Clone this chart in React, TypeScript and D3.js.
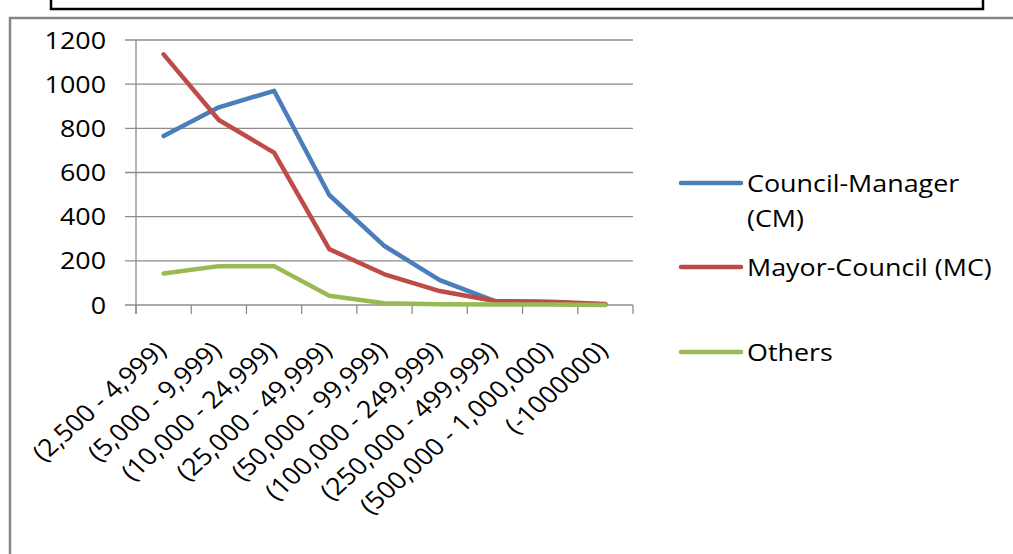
import React from "react";
import * as d3 from "d3";

// Population ranges of the municipalities
const categories = [
  "(2,500 - 4,999)",
  "(5,000 - 9,999)",
  "(10,000 - 24,999)",
  "(25,000 - 49,999)",
  "(50,000 - 99,999)",
  "(100,000 - 249,999)",
  "(250,000 - 499,999)",
  "(500,000 - 1,000,000)",
  "(-1000000)",
];

// Number of municipalities per form of government
const councilManager = [765, 895, 970, 498, 267, 113, 18, 12, 2];
const mayorCouncil = [1135, 838, 690, 253, 139, 63, 18, 15, 5];
const others = [143, 176, 176, 42, 8, 3, 2, 2, 0];

const yTicks = [0, 200, 400, 600, 800, 1000, 1200];

const seriesNames = ["Council-Manager", "Mayor-Council (MC)", "Others"];
const seriesColors = ["#4A7EBB", "#BE4B48", "#98B954"];

const W = 1013;
const H = 554;
const FONT = "'Open Sans', 'DejaVu Sans', sans-serif";
const FS = 24;
const SX = 1.12; // horizontal widening of the text glyphs

export default function App() {
  const x = d3.scaleBand<string>().domain(categories).range([136, 633]).padding(0);
  const y = d3.scaleLinear().domain([0, 1200]).range([305, 40]);
  const cx = (c: string) => (x(c) as number) + x.bandwidth() / 2;

  const line = d3
    .line<number>()
    .x((_, i) => cx(categories[i]))
    .y((d) => y(d));

  const series = [councilManager, mayorCouncil, others];
  const boundaries = [...categories.map((c) => x(c) as number), x.range()[1]];

  const legendRows = [
    { lines: ["Council-Manager", "(CM)"], y: 183 },
    { lines: ["Mayor-Council (MC)"], y: 267 },
    { lines: ["Others"], y: 352 },
  ];

  return (
    <svg
      width={W}
      height={H}
      style={{ position: "absolute", left: 0, top: 0, background: "#fff" }}
      fontFamily={FONT}
    >
      {/* outer frame */}
      <path d={`M10,${H + 5} V18 H${W + 5}`} fill="none" stroke="#858585" strokeWidth={2.5} />
      {/* box above the chart */}
      <rect x={51} y={-10} width={932} height={19} fill="none" stroke="#000" strokeWidth={2.5} />

      {/* gridlines */}
      {yTicks.map((t) => (
        <line key={t} x1={125} x2={633} y1={y(t)} y2={y(t)} stroke="#8C8C8C" strokeWidth={1.3} />
      ))}
      {/* y axis */}
      <line x1={136} x2={136} y1={y(1200)} y2={314} stroke="#8C8C8C" strokeWidth={1.3} />
      {/* x axis tick marks */}
      {boundaries.map((b, i) => (
        <line key={i} x1={b} x2={b} y1={305} y2={314} stroke="#8C8C8C" strokeWidth={1.3} />
      ))}

      {/* y tick labels */}
      {yTicks.map((t) => (
        <text
          key={t}
          transform={`translate(106,${y(t)}) scale(${SX},1)`}
          dy="0.36em"
          textAnchor="end"
          fontSize={FS}
          fill="#000"
        >
          {t}
        </text>
      ))}

      {/* x tick labels */}
      {categories.map((c) => (
        <text
          key={c}
          transform={`translate(${cx(c) + 4},352) scale(${SX},1) rotate(-45)`}
          textAnchor="end"
          fontSize={FS}
          fill="#000"
        >
          {c}
        </text>
      ))}

      {/* series lines */}
      {series.map((s, i) => (
        <path
          key={i}
          d={line(s) || ""}
          fill="none"
          stroke={seriesColors[i]}
          strokeWidth={4.5}
          strokeLinejoin="round"
          strokeLinecap="round"
        />
      ))}

      {/* legend */}
      {legendRows.map((r, i) => (
        <g key={seriesNames[i]}>
          <line x1={681} x2={741} y1={r.y} y2={r.y} stroke={seriesColors[i]} strokeWidth={4.5} strokeLinecap="round" />
          {r.lines.map((t, j) => (
            <text
              key={t}
              transform={`translate(747,${r.y + j * 35}) scale(${SX},1)`}
              dy="0.36em"
              fontSize={FS}
              fill="#000"
            >
              {t}
            </text>
          ))}
        </g>
      ))}
    </svg>
  );
}
